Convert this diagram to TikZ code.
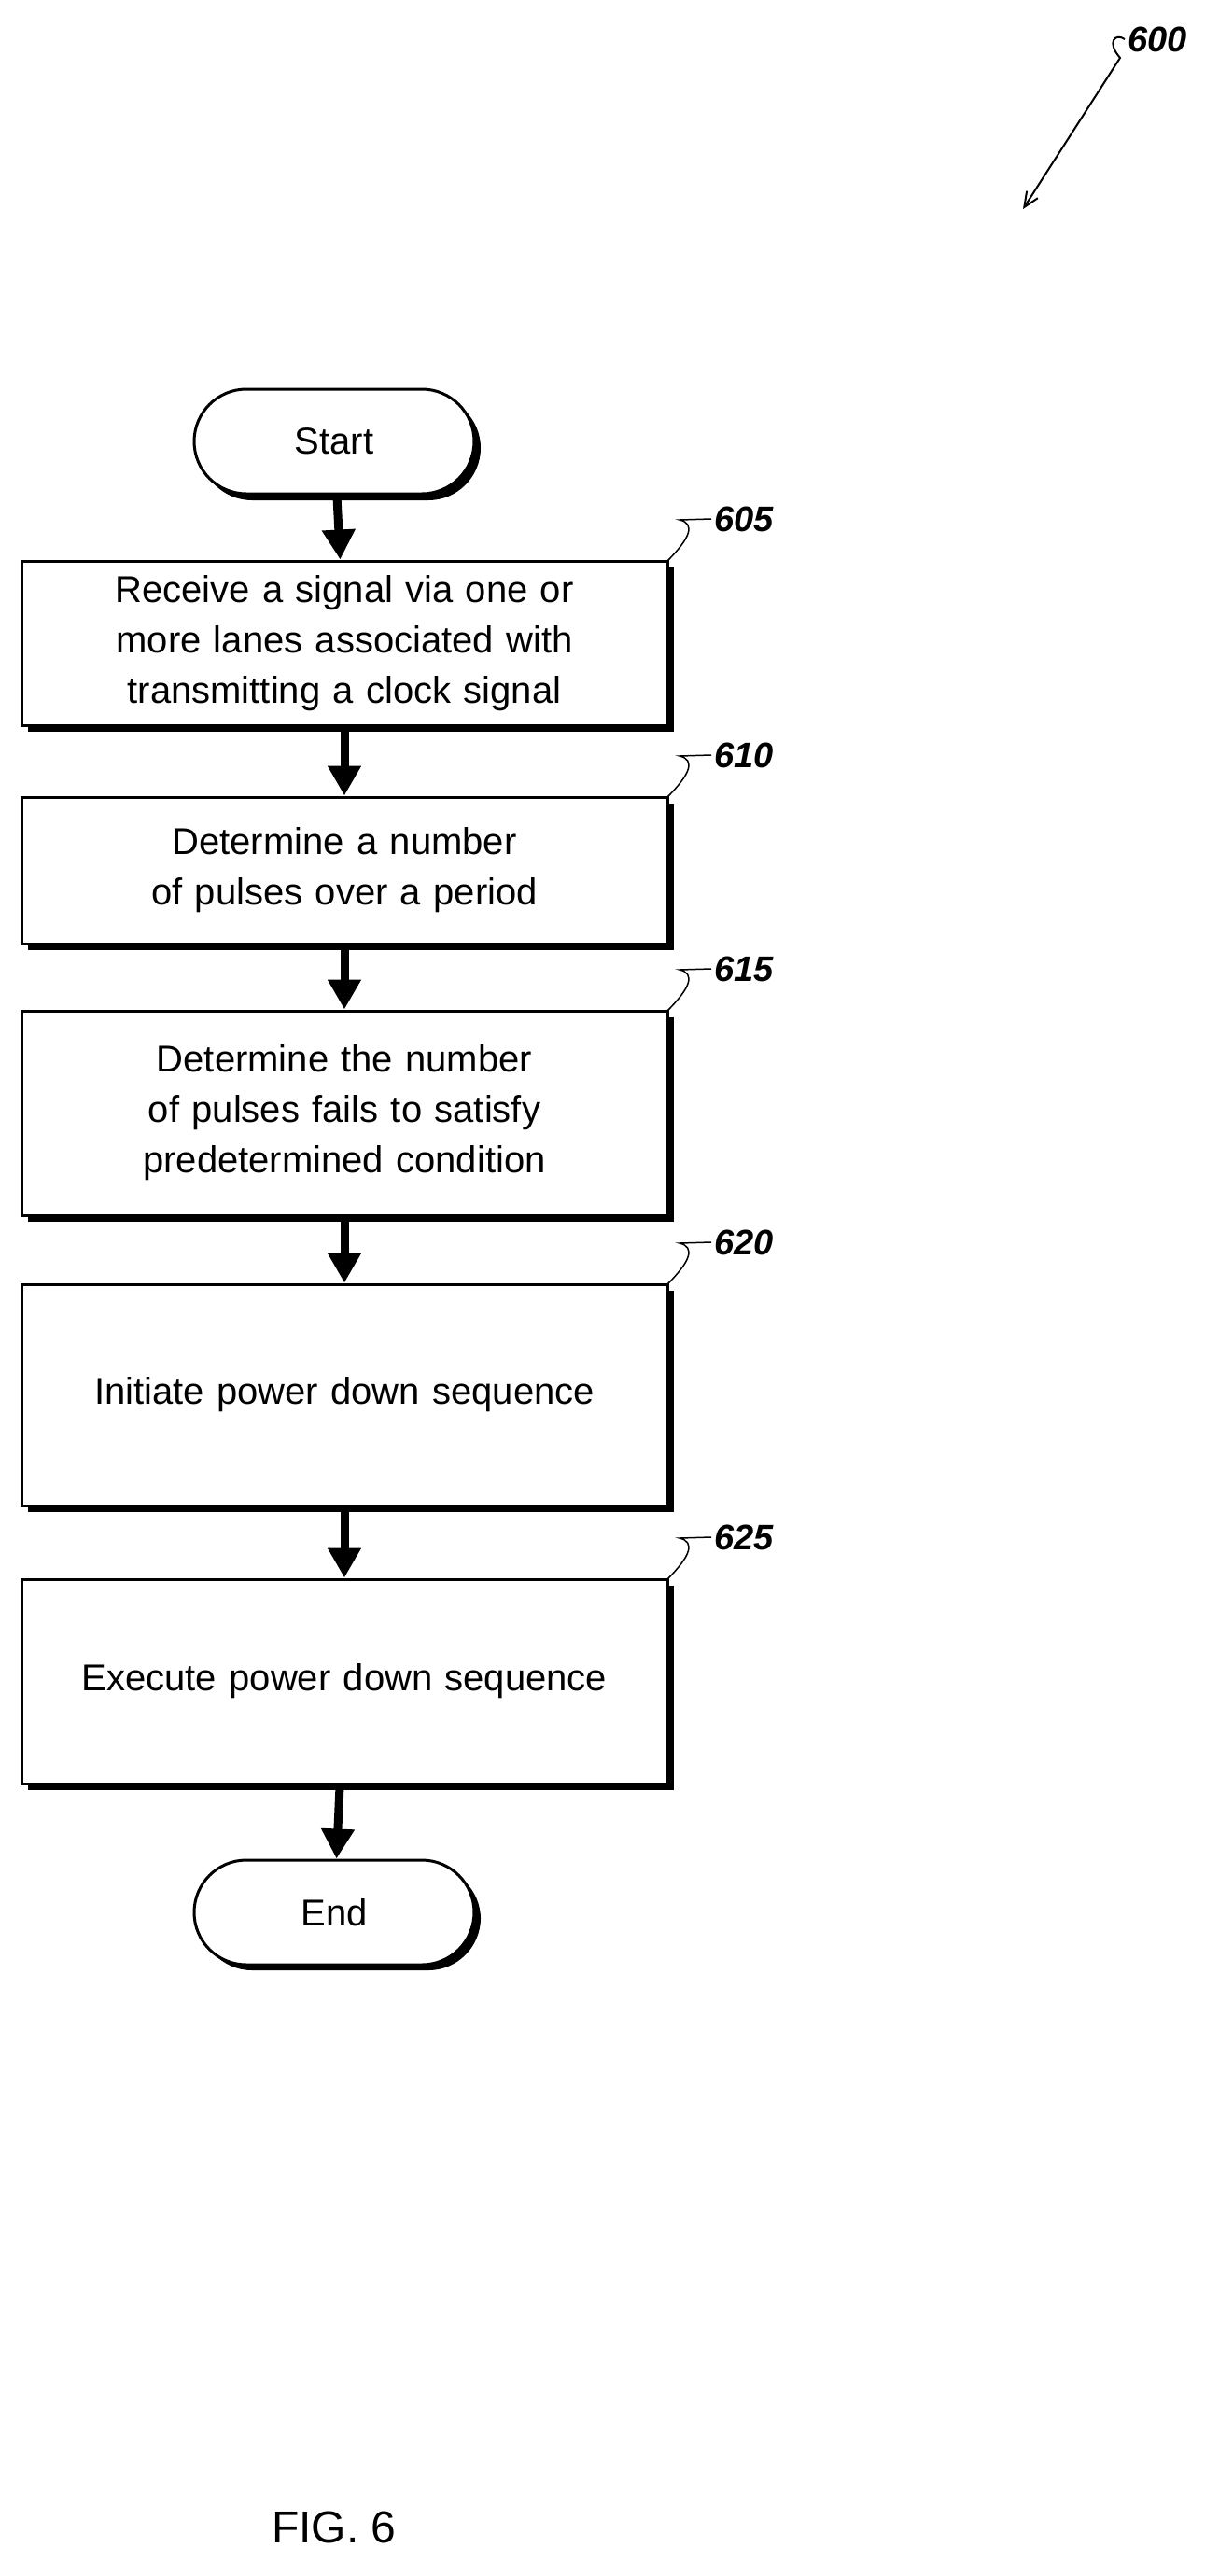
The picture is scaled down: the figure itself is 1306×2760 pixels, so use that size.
\documentclass[tikz,border=0pt]{standalone}
\usepackage{fontspec}
\setmainfont{Liberation Sans}
\usetikzlibrary{arrows.meta,positioning}
\begin{document}
\begin{tikzpicture}[x=1pt,y=-1pt,
  box/.style={draw,line width=3pt,fill=white,minimum width=692pt,text width=640pt,align=center,font=\fontsize{40}{54}\selectfont},
  term/.style={draw,line width=3pt,fill=white,rounded corners=56pt,minimum width=300pt,minimum height=112pt,font=\fontsize{40}{48}\selectfont},
  arr/.style={line width=9pt,-{Triangle[width=34pt,length=32pt]}},
  lead/.style={line width=1.5pt},
  num/.style={font=\fontsize{38}{40}\selectfont\bfseries\itshape,anchor=west}]
\useasboundingbox (0,0) rectangle (1306,2760);
\newcommand{\shbox}[5]{%
  \fill (#2+7,#3+7) rectangle (#4+7,#5+7);
  \node[box,minimum height=#5-#3] (#1) at ({(#2+#4)/2},{(#3+#5)/2}) {};}
% Start
\fill[rounded corners=56pt] (214,424) rectangle (515,536);
\node[term] (start) at (358,473) {Start};
\shbox{b605}{23}{601}{715}{777}
\node[box,draw=none,fill=none] at (b605) {Receive a signal via one or more lanes associated with transmitting a clock signal};
\shbox{b610}{23}{854}{715}{1011}
\node[box,draw=none,fill=none] at (b610) {Determine a number of pulses over a period};
\shbox{b615}{23}{1083}{715}{1302}
\node[box,draw=none,fill=none] at (b615) {Determine the number of pulses fails to satisfy predetermined condition};
\shbox{b620}{23}{1376}{715}{1613}
\node[box,draw=none,fill=none] at (b620) {Initiate power down sequence};
\shbox{b625}{23}{1692}{715}{1911}
\node[box,draw=none,fill=none] at (b625) {Execute power down sequence};
\fill[rounded corners=56pt] (214,2000) rectangle (515,2111);
\node[term] (end) at (358,2049) {End};
\draw[arr] (start) -- (b605);
\draw[arr] (b605) -- (b610);
\draw[arr] (b610) -- (b615);
\draw[arr] (b615) -- (b620);
\draw[arr] (b620) -- (b625);
\draw[arr] (b625) -- (end);
% leaders
\foreach \n/\y in {605/601,610/854,615/1083,620/1376,625/1692}{
  \node[num] (l\n) at (762,\y-45) {\n};
  \draw[lead] (715,\y) .. controls (740,\y-25) and (745,\y-40) .. (728,\y-44) -- (l\n.west);
}
\node[num] (l600) at (1205,42) {600};
\coordinate (a600) at (1096,224);
\draw[line width=2pt,-{Straight Barb[length=16pt,width=14pt]}] (l600.west) .. controls (1195,35) and (1185,45) .. (1200,62) -- (a600);
\node[font=\fontsize{48}{50}\selectfont] (fig) at (358,2708) {FIG. 6};
\end{tikzpicture}
\end{document}
